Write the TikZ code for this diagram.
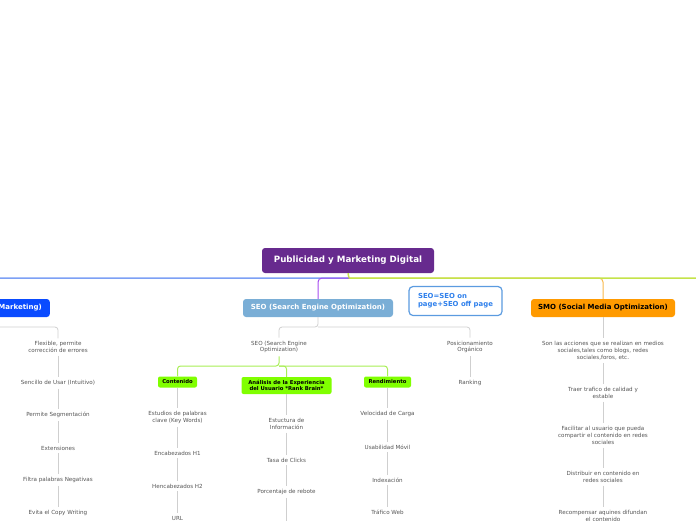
\documentclass[tikz,border=0pt]{standalone}
\usepackage{fontspec}
\setmainfont{DejaVu Sans}
\usepackage{xcolor}
\usepackage{tikz}
\definecolor{rootpurple}{HTML}{672A8E}
\definecolor{sempurple}{HTML}{A64CF0}
\definecolor{semblue}{HTML}{0A4BFF}
\definecolor{seoblue}{HTML}{7AAED6}
\definecolor{smoorange}{HTML}{FF9A00}
\definecolor{orangeln}{HTML}{F8B84C}
\definecolor{lineblue}{HTML}{7DA0F5}
\definecolor{linegreen}{HTML}{C4E34A}
\definecolor{lime}{HTML}{80FF00}
\definecolor{limeln}{HTML}{A8EE55}
\definecolor{lngray}{HTML}{CFCFCF}
\definecolor{leafgray}{HTML}{555555}
\definecolor{noteblue}{HTML}{5B9BE0}
\definecolor{notetext}{HTML}{2F80EC}

\begin{document}
\begin{tikzpicture}[x=1pt,y=-1pt,
  topic/.style={rounded corners=3pt,text=white,font=\bfseries\fontsize{7}{8.4}\selectfont,minimum height=18pt,inner sep=0pt},
  tag/.style={fill=lime,rounded corners=2pt,font=\bfseries\fontsize{5.3}{6.5}\selectfont,align=center,inner sep=0pt,minimum height=11pt},
  leaf/.style={text=leafgray,align=center,font=\fontsize{5.6}{6.7}\selectfont,inner sep=3pt},
  grayln/.style={draw=lngray,line width=0.8pt,rounded corners=3pt},
  limeline/.style={draw=limeln,line width=1pt,rounded corners=3pt}]
\useasboundingbox (0,0) rectangle (696,520);

\node[topic,fill=rootpurple,minimum width=172pt,minimum height=25pt,font=\bfseries\fontsize{8.7}{10}\selectfont] (root) at (348,260.5) {Publicidad y Marketing Digital};
\node[topic,fill=semblue,anchor=east,inner xsep=8pt] (sem) at (50,308) {SEM (Search Engine Marketing)};
\node[topic,fill=seoblue,minimum width=150pt] (seo) at (318,308) {SEO (Search Engine Optimization)};
\node[topic,fill=smoorange,text=black,minimum width=144pt] (smo) at (603,308) {SMO (Social Media Optimization)};
\node[draw=noteblue,line width=1.2pt,fill=white,rounded corners=4pt,text=notetext,align=left,minimum width=93pt,minimum height=29pt,inner sep=0pt,font=\bfseries\fontsize{6.9}{8}\selectfont] (seoeq) at (455.5,301) {SEO=SEO on\\page+SEO off page};

\coordinate (tfork) at (349,278);
\coordinate (east) at (720,278);
\draw[orangeln,line width=1pt,rounded corners=4pt] (smo.north) |- (tfork);
\draw[lineblue,line width=1.5pt,rounded corners=4pt] (tfork) -| (sem.north);
\draw[linegreen,line width=1.5pt] (root.south) -- (tfork) -- (east);
\draw[sempurple,line width=1pt,rounded corners=4pt] (tfork) -| (seo.north);

\node[leaf] (sem1) at (58,347) {Flexible, permite\\corrección de errores};
\node[leaf] (sem2) at (58,383) {Sencillo de Usar (Intuitivo)};
\node[leaf] (sem3) at (58,415) {Permite Segmentación};
\node[leaf] (sem4) at (58,448) {Extensiones};
\node[leaf] (sem5) at (58,480) {Filtra palabras Negativas};
\node[leaf] (sem6) at (58,513) {Evita el Copy Writing};
\coordinate (semfork) at (0,327);
\draw[grayln] (sem.south) |- (semfork) -| (sem1.north);
\draw[grayln] (sem1) -- (sem2) -- (sem3) -- (sem4) -- (sem5) -- (sem6);

\node[leaf] (seo1) at (279,347) {SEO (Search Engine\\Optimization)};
\node[leaf] (seo2) at (470,347) {Posicionamiento\\Orgánico};
\node[leaf] (rank) at (470,383) {Ranking};
\coordinate (seofork) at (318,327);
\draw[grayln] (seo.south) -- (seofork) -| (seo1.north);
\draw[grayln] (seofork) -| (seo2.north);
\draw[grayln] (seo2) -- (rank);

\node[tag,minimum width=39pt] (cont) at (177.5,382) {Contenido};
\node[tag,minimum width=90pt,minimum height=17pt] (anal) at (286.5,385.5) {Análisis de la Experiencia\\del Usuario *Rank Brain*};
\node[tag,minimum width=47pt] (rend) at (387.5,382) {Rendimiento};
\coordinate (gfork) at (279,366);
\draw[limeline] (seo1.south) -- (gfork) -| (cont.north);
\draw[limeline] (gfork) -| (rend.north);
\draw[limeline] (gfork) -| (anal.north);

\node[leaf] (c1) at (177.5,417.5) {Estudios de palabras\\clave (Key Words)};
\node[leaf] (c2) at (177.5,453) {Encabezados H1};
\node[leaf] (c3) at (177.5,486) {Hencabezados H2};
\node[leaf] (c4) at (177.5,518) {URL};
\draw[grayln] (cont) -- (c1) -- (c2) -- (c3) -- (c4);

\node[leaf] (a1) at (286.5,424) {Estuctura de\\Información};
\node[leaf] (a2) at (286.5,460) {Tasa de Clicks};
\node[leaf] (a3) at (286.5,492) {Porcentaje de rebote};
\coordinate (a4) at (286.5,530);
\draw[grayln] (anal) -- (a1) -- (a2) -- (a3) -- (a4);

\node[leaf] (r1) at (387.5,414) {Velocidad de Carga};
\node[leaf] (r2) at (387.5,447) {Usabilidad Móvil};
\node[leaf] (r3) at (387.5,480) {Indexación};
\node[leaf] (r4) at (387.5,512) {Tráfico Web};
\draw[grayln] (rend) -- (r1) -- (r2) -- (r3) -- (r4);

\node[leaf] (smo1) at (603,350.5) {Son las acciones que se realizan en medios\\sociales,tales como blogs, redes\\sociales,foros, etc.};
\node[leaf] (smo2) at (603,393) {Traer trafico de calidad y\\estable};
\node[leaf] (smo3) at (603,435.5) {Facilitar al usuario que pueda\\compartir el contenido en redes\\sociales};
\node[leaf] (smo4) at (603,477) {Distribuir en contenido en\\redes sociales};
\node[leaf] (smo5) at (603,516) {Recompensar aquines difundan\\el contenido};
\draw[grayln] (smo) -- (smo1) -- (smo2) -- (smo3) -- (smo4) -- (smo5);
\end{tikzpicture}
\end{document}
